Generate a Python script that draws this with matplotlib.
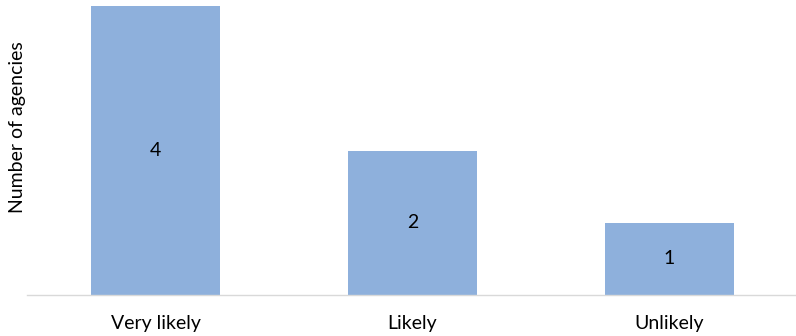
import matplotlib
matplotlib.use("Agg")
import matplotlib.pyplot as plt

categories = ["Very likely", "Likely", "Unlikely"]
values = [4, 2, 1]

plt.rcParams['font.family'] = ['Lato', 'DejaVu Sans']

fig = plt.figure(figsize=(7.96, 3.36), dpi=100)
ax = fig.add_axes([27/796, 41/336, 771/796, 289/336])
x = range(len(categories))
bars = ax.bar(x, values, width=0.5, color="#8EB0DC", zorder=2)
ax.set_xlim(-0.5, 2.5)
ax.set_ylim(0, 4)
for rect, v in zip(bars, values):
    ax.text(rect.get_x() + rect.get_width()/2, v/2, str(v), ha="center", va="center",
            fontsize=14, color="black")
ax.set_xticks(list(x))
ax.set_xticklabels(categories, fontsize=14)
ax.tick_params(axis="x", length=0, pad=14.5)
ax.set_yticks([])
for s in ["top", "right", "left"]:
    ax.spines[s].set_visible(False)
ax.spines["bottom"].set_color("#D9D9D9")
ax.spines["bottom"].set_linewidth(1)
fig.text(18/796, 1 - 127/336, "Number of agencies", rotation=90, ha="center", va="center", fontsize=14)
fig.savefig("out.png", dpi=100)
